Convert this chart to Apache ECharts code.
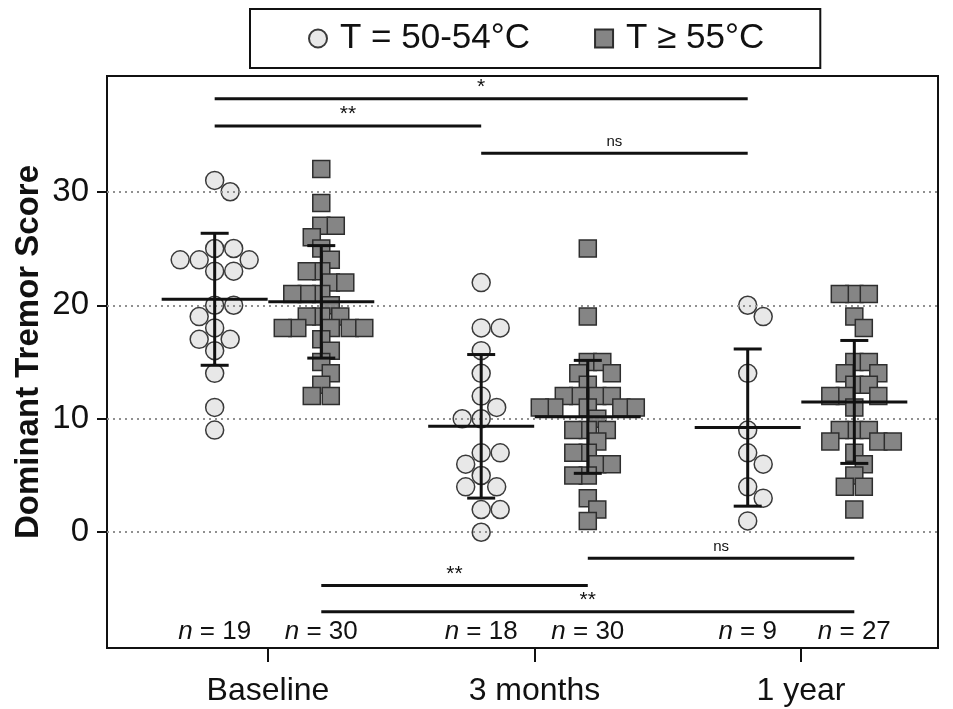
<!DOCTYPE html>
<html><head><meta charset="utf-8">
<script src="https://cdn.jsdelivr.net/npm/echarts@6/dist/echarts.min.js"></script>
<style>html,body{margin:0;padding:0;background:#fff}#c{width:953px;height:709px}</style>
</head><body><div id="c"></div>
<script>
// ---- data ----
const categories = ['Baseline', '3 months', '1 year'];
const seriesNames = ['T = 50-54°C', 'T ≥ 55°C'];
const lowBaseline = [31,30,25,25,24,24,24,23,23,20,20,19,18,17,17,16,14,11,9];
const low3m = [22,18,18,16,14,12,11,10,10,7,7,6,5,4,4,2,2,0];
const low1y = [20,19,14,9,7,6,4,3,1];
const highBaseline = [32,29,27,27,26,25,24,23,23,22,22,21,21,21,20,19,19,19,18,18,18,18,18,17,16,15,14,13,12,12];
const high3m = [25,19,15,15,14,14,13,12,12,12,12,11,11,11,11,11,10,9,9,9,8,7,7,6,6,5,5,3,2,1];
const high1y = [21,21,21,19,18,15,15,14,14,13,13,12,12,12,11,9,9,9,8,8,8,7,6,5,4,4,2];
const yTicks = [0, 10, 20, 30];
// significance brackets: [fromCategory, fromGroup(0 low/1 high), toCategory, toGroup, level, label]
const sigBars = [
  [0, 0, 2, 0, 38.2, '*'],
  [0, 0, 1, 0, 35.8, '**'],
  [1, 0, 2, 0, 33.4, 'ns'],
  [1, 1, 2, 1, -2.3, 'ns'],
  [0, 1, 1, 1, -4.7, '**'],
  [0, 1, 2, 1, -7.0, '**']
];

// ---- layout ----
const W = 953, H = 709;
const G = {left: 107, right: 15, top: 76, bottom: 61};
const X_MIN = 0.396, X_MAX = 3.514, Y_MIN = -10.2, Y_MAX = 40.2;
const GROUP_OFF = 0.2;
const N_LABEL_Y = -8.8;
const FONT = '"Liberation Sans", Arial, sans-serif';
const xPx = (W - G.left - G.right) / (X_MAX - X_MIN);
const yPx = (H - G.top - G.bottom) / (Y_MAX - Y_MIN);

const lowGroups = [lowBaseline, low3m, low1y];
const highGroups = [highBaseline, high3m, high1y];
const gx = (cat, grp) => cat + 1 + (grp === 0 ? -GROUP_OFF : GROUP_OFF);

function swarm(values, cx, minDist) {
  const idx = values.map((v, i) => i).sort((a, b) => values[b] - values[a]);
  const placed = [], out = [];
  idx.forEach(i => {
    const py = values[i] * yPx;
    let off = 0;
    for (let k = 0; k < 4000; k++) {
      const o = (k % 2 ? 1 : -1) * Math.ceil(k / 2) * 0.5;
      if (placed.every(p => Math.hypot(o - p[0], py - p[1]) >= minDist)) { off = o; break; }
    }
    placed.push([off, py]);
    out.push([cx + off / xPx, values[i]]);
  });
  return out;
}
function mean(a) { return a.reduce((s, v) => s + v, 0) / a.length; }
function sd(a) { const m = mean(a); return Math.sqrt(a.reduce((s, v) => s + (v - m) * (v - m), 0) / (a.length - 1)); }

const lowPts = [], highPts = [], stats = [], nLabels = [];
lowGroups.forEach((g, c) => {
  lowPts.push(...swarm(g, gx(c, 0), 19));
  stats.push([gx(c, 0), mean(g), sd(g)]);
  nLabels.push([gx(c, 0), N_LABEL_Y, g.length]);
});
highGroups.forEach((g, c) => {
  highPts.push(...swarm(g, gx(c, 1), 14.5));
  stats.push([gx(c, 1), mean(g), sd(g)]);
  nLabels.push([gx(c, 1), N_LABEL_Y, g.length]);
});
const sigData = sigBars.map(b => [gx(b[0], b[1]), gx(b[2], b[3]), b[4], b[5]]);

const chart = echarts.init(document.getElementById('c'), null, {renderer: 'canvas'});
chart.setOption({
  animation: false,
  backgroundColor: '#fff',
  grid: {left: G.left, right: G.right, top: G.top, bottom: G.bottom, show: true,
         borderColor: '#111', borderWidth: 2, backgroundColor: 'transparent'},
  legend: {
    left: 250, top: 9, orient: 'horizontal',
    borderColor: '#111', borderWidth: 2,
    padding: [12, 56, 12, 58], itemGap: 64, itemWidth: 18, itemHeight: 18,
    textStyle: {fontFamily: FONT, fontSize: 35, color: '#111', padding: [0, 0, 0, 8]},
    data: seriesNames
  },
  xAxis: {
    type: 'value', min: X_MIN, max: X_MAX,
    axisLine: {show: true, onZero: false, lineStyle: {color: '#111', width: 2}},
    axisTick: {show: true, customValues: [1, 2, 3], length: 14, lineStyle: {color: '#111', width: 2}},
    axisLabel: {customValues: [1, 2, 3], formatter: v => categories[Math.round(v) - 1],
                fontFamily: FONT, fontSize: 32, color: '#111', margin: 27},
    splitLine: {show: false}
  },
  yAxis: {
    type: 'value', min: Y_MIN, max: Y_MAX,
    name: 'Dominant Tremor Score', nameLocation: 'middle', nameGap: 62, nameMoveOverlap: false,
    nameTextStyle: {fontFamily: FONT, fontSize: 33, fontWeight: 'bold', color: '#111', padding: [0, 0, 0, 20]},
    axisLine: {show: true, onZero: false, lineStyle: {color: '#111', width: 2}},
    axisTick: {show: true, customValues: yTicks, length: 10, lineStyle: {color: '#111', width: 2}},
    axisLabel: {customValues: yTicks, fontFamily: FONT, fontSize: 33, color: '#111', margin: 18},
    splitLine: {show: false}
  },
  series: [
    {
      type: 'line', data: [], z: 1, silent: true,
      markLine: {
        silent: true, symbol: ['none', 'none'], label: {show: false},
        lineStyle: {color: '#909090', type: [2, 4], width: 2},
        data: yTicks.map(v => ({yAxis: v}))
      }
    },
    {
      name: seriesNames[0], type: 'scatter', symbol: 'circle', symbolSize: 18, z: 2,
      itemStyle: {color: '#e8e8e8', borderColor: '#3a3a3a', borderWidth: 1.5, opacity: 1},
      data: lowPts
    },
    {
      name: seriesNames[1], type: 'scatter', symbol: 'rect', symbolSize: 17, z: 2,
      itemStyle: {color: '#858585', borderColor: '#2e2e2e', borderWidth: 1.5, opacity: 1},
      data: highPts
    },
    {
      type: 'custom', z: 5, silent: true, data: stats,
      renderItem: (params, api) => {
        const x = api.value(0), m = api.value(1), s = api.value(2);
        const c = api.coord([x, m]), t = api.coord([x, m + s]), b = api.coord([x, m - s]);
        const st = {stroke: '#111', lineWidth: 3};
        return {type: 'group', children: [
          {type: 'line', shape: {x1: c[0] - 53, y1: c[1], x2: c[0] + 53, y2: c[1]}, style: st},
          {type: 'line', shape: {x1: t[0], y1: t[1], x2: b[0], y2: b[1]}, style: st},
          {type: 'line', shape: {x1: t[0] - 14, y1: t[1], x2: t[0] + 14, y2: t[1]}, style: st},
          {type: 'line', shape: {x1: b[0] - 14, y1: b[1], x2: b[0] + 14, y2: b[1]}, style: st}
        ]};
      }
    },
    {
      type: 'custom', z: 5, silent: true, data: sigData,
      renderItem: (params, api) => {
        const d = sigData[params.dataIndex];
        const a = api.coord([d[0], d[2]]), b = api.coord([d[1], d[2]]);
        const isNs = d[3] === 'ns';
        return {type: 'group', children: [
          {type: 'line', shape: {x1: a[0], y1: a[1], x2: b[0], y2: b[1]}, style: {stroke: '#111', lineWidth: 3}},
          {type: 'text', x: (a[0] + b[0]) / 2, y: a[1] - (isNs ? 4 : 1),
           style: {text: d[3], fontFamily: FONT, fontSize: isNs ? 15 : 21, fill: '#111',
                   align: 'center', verticalAlign: 'bottom'}}
        ]};
      }
    },
    {
      type: 'custom', z: 5, silent: true, data: nLabels,
      renderItem: (params, api) => {
        const p = api.coord([api.value(0), api.value(1)]);
        return {type: 'text', x: p[0], y: p[1],
          style: {text: '{i|n} = ' + api.value(2), fontFamily: FONT, fontSize: 26, fill: '#111',
                  align: 'center', verticalAlign: 'middle',
                  rich: {i: {fontStyle: 'italic', fontFamily: FONT, fontSize: 26, fill: '#111'}}}};
      }
    }
  ]
});
</script>
</body></html>
